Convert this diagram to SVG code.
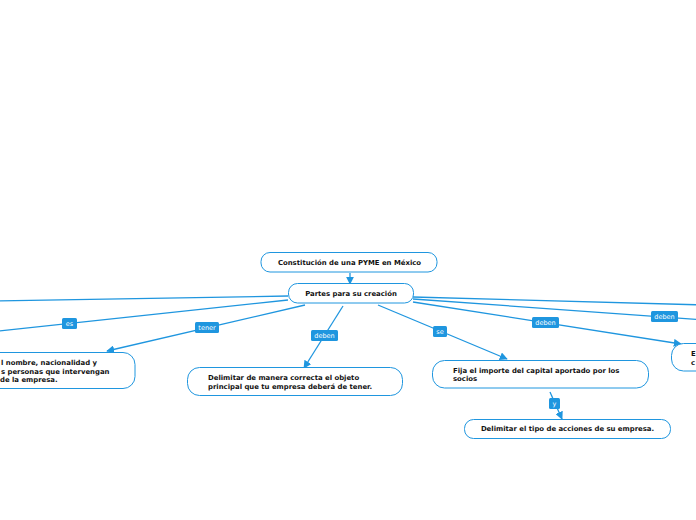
<svg xmlns="http://www.w3.org/2000/svg" width="696" height="520" viewBox="0 0 696 520">
<defs>
<marker id="ah" viewBox="0 0 10 10" refX="9" refY="5" markerWidth="8" markerHeight="8" markerUnits="userSpaceOnUse" orient="auto">
<path d="M0,0 L10,5 L0,10 z" fill="#1f96df"/>
</marker>
<style>
.c{fill:none;stroke:#1f96df;stroke-width:1.3}
.n{fill:#fff;stroke:#1f96df;stroke-width:1}
.t{font-family:"DejaVu Sans",Verdana,sans-serif;font-weight:bold;font-size:6.9px;fill:#111}
.lb{fill:#1f96df}
.lt{font-family:"DejaVu Sans",Verdana,sans-serif;font-size:6.5px;fill:#fff;text-anchor:middle}
</style>
</defs>
<rect width="696" height="520" fill="#fff"/>
<g id="connectors">
<path class="c" d="M350,273 L350,284" marker-end="url(#ah)"/>
<path class="c" d="M288,296 L-10,301"/>
<path class="c" d="M288,300 L-10,332"/>
<path class="c" d="M305,305 L107,351" marker-end="url(#ah)"/>
<path class="c" d="M343,306 L304,368" marker-end="url(#ah)"/>
<path class="c" d="M378,305 L507,359" marker-end="url(#ah)"/>
<path class="c" d="M413,302 L681,344" marker-end="url(#ah)"/>
<path class="c" d="M413,299 L706,320"/>
<path class="c" d="M413,297 L706,305"/>
<path class="c" d="M550,392 L562,419" marker-end="url(#ah)"/>
<rect class="lb" x="62" y="318" width="15" height="11" rx="1.5"/>
<text class="lt" x="69.5" y="325.8">es</text>
<rect class="lb" x="195" y="322" width="24" height="11" rx="1.5"/>
<text class="lt" x="207" y="329.8">tener</text>
<rect class="lb" x="311" y="330" width="27" height="11" rx="1.5"/>
<text class="lt" x="324.5" y="337.8">deben</text>
<rect class="lb" x="433" y="326" width="14" height="11" rx="1.5"/>
<text class="lt" x="440" y="333.8">se</text>
<rect class="lb" x="532" y="317" width="27" height="11" rx="1.5"/>
<text class="lt" x="545.5" y="324.8">deben</text>
<rect class="lb" x="651" y="311" width="27" height="11" rx="1.5"/>
<text class="lt" x="664.5" y="318.8">deben</text>
<rect class="lb" x="549" y="398" width="11" height="11" rx="1.5"/>
<text class="lt" x="554.5" y="405.8">y</text>
</g>
<g id="n-root">
<rect class="n" x="261" y="252.5" width="176" height="19.5" rx="9"/>
<text class="t" x="349.5" y="264.5" text-anchor="middle">Constitución de una PYME en México</text>
</g>
<g id="n-partes">
<rect class="n" x="288.5" y="283.5" width="125" height="19.5" rx="9"/>
<text class="t" x="351" y="295.5" text-anchor="middle">Partes para su creación</text>
</g>
<g id="n-left">
<rect class="n" x="-100" y="352.5" width="235" height="36" rx="12"/>
<text class="t" x="1" y="365">l nombre, nacionalidad y</text>
<text class="t" x="1" y="373.5">s personas que intervengan</text>
<text class="t" x="0" y="382">de la empresa.</text>
</g>
<g id="n-objeto">
<rect class="n" x="187.5" y="367.5" width="215" height="28" rx="12"/>
<text class="t" x="208" y="380">Delimitar de manera correcta el objeto</text>
<text class="t" x="208" y="389">principal que tu empresa deberá de tener.</text>
</g>
<g id="n-capital">
<rect class="n" x="432.5" y="360.5" width="216" height="27.5" rx="12"/>
<text class="t" x="453" y="372.5">Fija el importe del capital aportado por los</text>
<text class="t" x="453" y="381">socios</text>
</g>
<g id="n-acciones">
<rect class="n" x="464.5" y="419.5" width="206" height="19" rx="9"/>
<text class="t" x="567.5" y="431" text-anchor="middle">Delimitar el tipo de acciones de su empresa.</text>
</g>
<g id="n-right">
<rect class="n" x="671.5" y="343.5" width="100" height="27.5" rx="12"/>
<text class="t" x="691" y="355.5">E</text>
<text class="t" x="691" y="364.5">c</text>
</g>
</svg>
